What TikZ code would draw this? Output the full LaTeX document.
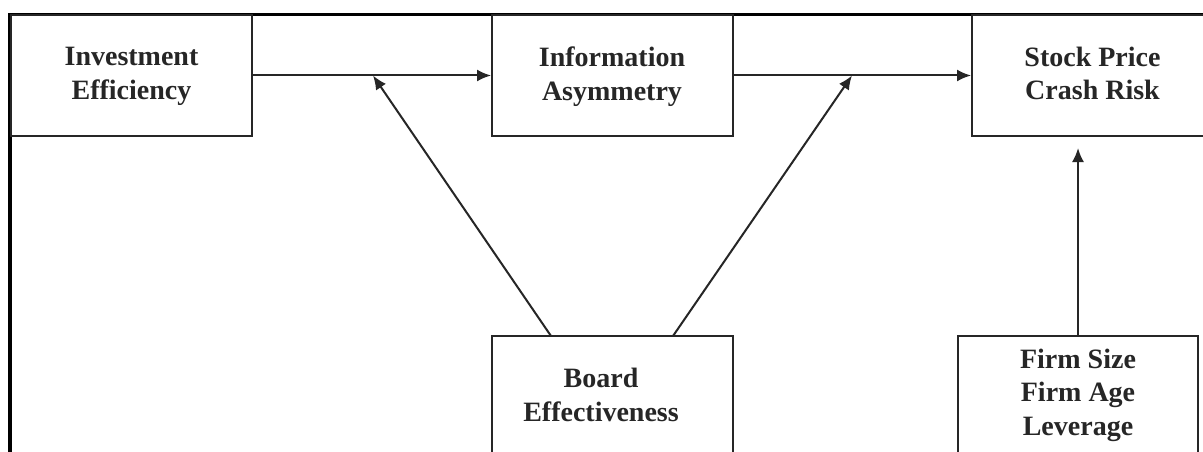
\documentclass[tikz,border=0pt]{standalone}
\usepackage{fontspec}
\setmainfont{Liberation Serif}
\usetikzlibrary{arrows.meta}
\tikzset{
  boxnode/.style={draw=black!85, line width=2pt, rectangle, minimum width=241pt, minimum height=121pt, inner sep=0pt},
  txtnode/.style={font=\fontsize{28}{33.5}\selectfont\bfseries, align=center, text=black!85, inner sep=0pt},
  conn/.style={draw=black!85, line width=2pt, -{Latex[length=14pt,width=12pt]}},
  frameline/.style={draw=black, line width=3.5pt}
}
\begin{document}
\begin{tikzpicture}[x=1pt,y=-1pt]
\useasboundingbox (0,0) rectangle (1203,452);
\clip (0,0) rectangle (1203,452);
\fill[white] (0,0) rectangle (1203,452);
% frame
\draw[frameline] (10,452) -- (10,14.5) -- (1205,14.5);
% boxes
\node[boxnode] (ie) at (131.5,75.5) {};
\node[txtnode] (iet) at (131.5,76.5) {Investment\\Efficiency};
\node[boxnode] (ia) at (612.5,75.5) {};
\node[txtnode] (iat) at (612,76.5) {Information\\Asymmetry};
\node[boxnode] (sp) at (1092.5,75.5) {};
\node[txtnode] (spt) at (1092.5,76.5) {Stock Price\\Crash Risk\vphantom{y}};
\node[boxnode] (be) at (612.5,396.5) {};
\node[txtnode] (bet) at (601,398) {Board\\Effectiveness\vphantom{y}};
\node[boxnode, minimum width=240pt] (fs) at (1078,396.5) {};
\node[txtnode] (fst) at (1078,395) {Firm Size\\Firm Age\\Leverage};
% junction points on the main connectors
\coordinate (m1) at (373,75.5);
\coordinate (m2) at (852,75.5);
\coordinate (b1) at (551,336);
\coordinate (b2) at (673,336);
\coordinate (f1) at (1078,336);
\coordinate (s1) at (1078,148);
% connectors
\draw[conn] (ie.east) -- (ia.west);
\draw[conn] (ia.east) -- (sp.west);
\draw[conn] (b1) -- (m1);
\draw[conn] (b2) -- (m2);
\draw[conn] (f1) -- (s1);
\end{tikzpicture}
\end{document}
